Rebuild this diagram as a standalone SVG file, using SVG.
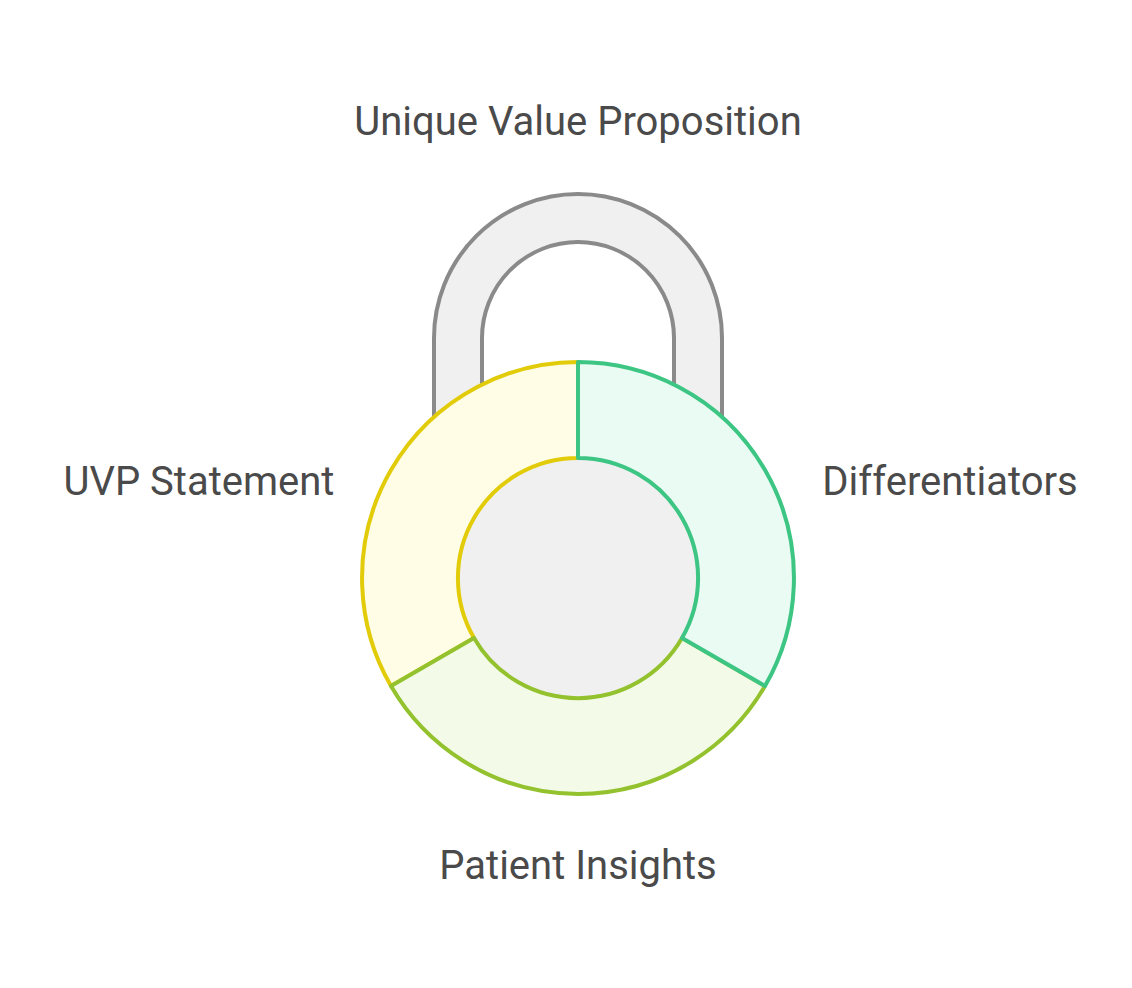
<svg xmlns="http://www.w3.org/2000/svg" width="1132" height="988" viewBox="0 0 1132 988">
<style>
text{font-family:Roboto,"Liberation Sans",sans-serif;font-size:40px;fill:#4a4a4a;text-anchor:middle}
.seg{stroke-width:4;stroke-linejoin:round}
</style>
<rect width="1132" height="988" fill="#ffffff"/>
<!-- Shackle: open outline, its ends tucked behind the ring -->
<g id="shackle"><path d="M434 424V338A144 144 0 0 1 722 338V424L674 392V338A96 96 0 0 0 482 338V392Z" fill="#f0f0f0"/><path d="M434 424V338A144 144 0 0 1 722 338V424M674 392V338A96 96 0 0 0 482 338V392" fill="none" stroke="#8a8a8a" stroke-width="4"/></g>
<g id="hub"><circle cx="578" cy="578" r="120" fill="#f0f0f0"/></g>
<g id="uvp-statement"><path class="seg" d="M391 686A216 216 0 0 1 578 362V458A120 120 0 0 0 474 638Z" fill="#fffde6" stroke="#e2cc0a"/></g>
<g id="patient-insights"><path class="seg" d="M765 686A216 216 0 0 1 391 686L474 638A120 120 0 0 0 682 638Z" fill="#f3fbe8" stroke="#93c22e"/></g>
<g id="differentiators"><path class="seg" d="M578 362A216 216 0 0 1 765 686L682 638A120 120 0 0 0 578 458Z" fill="#e9fbf3" stroke="#3cc583"/></g>
<g id="labels">
<text x="578" y="135">Unique Value Proposition</text>
<text x="950" y="495">Differentiators</text>
<text x="578" y="879">Patient Insights</text>
<text x="199" y="495">UVP Statement</text>
</g>
<g id="connectors"/>
</svg>
